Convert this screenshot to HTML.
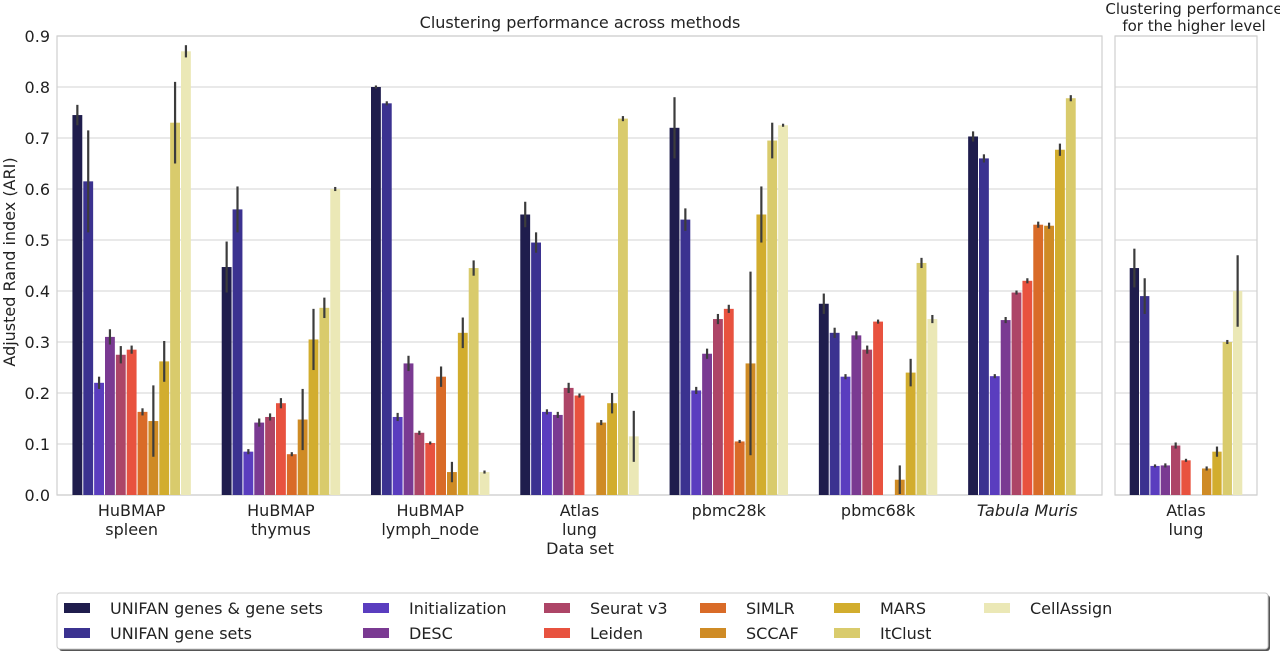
<!DOCTYPE html>
<html><head><meta charset="utf-8"><style>
body{margin:0;background:#fff;}
svg{font-family:"DejaVu Sans","Liberation Sans",sans-serif;}
</style></head><body>
<svg id="chart" width="1280" height="653" xmlns="http://www.w3.org/2000/svg"></svg>
<script>
const methods=["UNIFAN genes & gene sets","UNIFAN gene sets","Initialization","DESC","Seurat v3","Leiden","SIMLR","SCCAF","MARS","ItClust","CellAssign"];
const colors=["#1f1d4d","#3b3290","#5a3dbf","#7a3a92","#ad4567","#e8523f","#d96b28","#cf8b25","#d2ad2e","#d9cb6c","#ebe8b6"];
const datasets=["HuBMAP\nspleen","HuBMAP\nthymus","HuBMAP\nlymph_node","Atlas\nlung","pbmc28k","pbmc68k","Tabula Muris"];
const values=[
[0.745,0.615,0.22,0.31,0.275,0.285,0.163,0.145,0.262,0.73,0.87],
[0.447,0.56,0.085,0.142,0.153,0.18,0.08,0.148,0.305,0.367,0.60],
[0.80,0.768,0.153,0.258,0.122,0.102,0.232,0.045,0.318,0.445,0.045],
[0.55,0.495,0.163,0.157,0.21,0.195,null,0.142,0.18,0.738,0.115],
[0.72,0.54,0.205,0.277,0.345,0.365,0.105,0.258,0.55,0.695,0.725],
[0.375,0.318,0.232,0.313,0.285,0.34,null,0.03,0.24,0.455,0.345],
[0.703,0.66,0.233,0.343,0.397,0.42,0.53,0.528,0.677,0.778,null]];
const errors=[
[0.02,0.1,0.012,0.015,0.017,0.008,0.007,0.07,0.04,0.08,0.012],
[0.05,0.045,0.005,0.008,0.007,0.01,0.004,0.06,0.06,0.02,0.004],
[0.003,0.004,0.008,0.015,0.004,0.003,0.02,0.02,0.03,0.015,0.003],
[0.025,0.02,0.005,0.006,0.01,0.004,0,0.005,0.02,0.005,0.05],
[0.06,0.022,0.007,0.01,0.01,0.008,0.003,0.18,0.055,0.035,0.003],
[0.02,0.01,0.005,0.008,0.008,0.004,0,0.028,0.027,0.01,0.008],
[0.01,0.008,0.004,0.006,0.004,0.005,0.006,0.006,0.012,0.006,0]];
const hiDataset=["Atlas\nlung"];
const hiValues=[0.445,0.39,0.057,0.058,0.097,0.068,null,0.052,0.085,0.30,0.40];
const hiErrors=[0.038,0.035,0.003,0.004,0.006,0.003,0,0.004,0.01,0.004,0.07];
const yTicks=[0,0.1,0.2,0.3,0.4,0.5,0.6,0.7,0.8,0.9];

const NS="http://www.w3.org/2000/svg";
const svg=document.getElementById('chart');
function mk(t,a,p){const e=document.createElementNS(NS,t);for(const k in a)e.setAttribute(k,a[k]);(p||svg).appendChild(e);return e;}
const Y0=495,Y1=36,YMAX=0.9;
const y=v=>Y0-(v/YMAX)*(Y0-Y1);
const main={x0:57,x1:1102},hi={x0:1115,x1:1257};

function panel(P,groups,vals,errs,name){
  const g=mk('g',{});
  
  
  yTicks.forEach(t=>{const l=mk('line',{x1:P.x0,x2:P.x1,y1:y(t),y2:y(t),stroke:'#dcdcdc','stroke-width':1.2},g);
    });
  const fr=mk('rect',{x:P.x0,y:Y1,width:P.x1-P.x0,height:Y0-Y1,fill:'none',stroke:'#cfcfcf','stroke-width':1.2},g);
  
  const gw=(P.x1-P.x0)/groups.length, bw=gw*0.8/methods.length;
  groups.forEach((ds,gi)=>{
    const gx=P.x0+gw*gi+gw*0.1;
    vals[gi].forEach((v,mi)=>{
      if(v===null)return;
      const bx=gx+mi*bw;
      const r=mk('rect',{x:bx+0.5,y:y(v),width:bw-1,height:Y0-y(v),fill:colors[mi]},g);
      
      const e=errs[gi][mi];
      if(e>0){const el=mk('line',{x1:bx+bw/2,x2:bx+bw/2,y1:y(v+e),y2:y(Math.max(0,v-e)),stroke:'#3c3c3c','stroke-width':2.2},g);
        }
    });
    const lines=ds.split('\n');const cx=P.x0+gw*gi+gw/2;
    lines.forEach((s,li)=>{const t=mk('text',{x:cx,y:516+li*19,'text-anchor':'middle','font-size':16,fill:'#222','font-style':s==='Tabula Muris'?'italic':'normal'},g);
      t.textContent=s;});
  });
}
panel(main,datasets,values,errors,'main-panel');
panel(hi,hiDataset,[hiValues],[hiErrors],'higher-level-panel');

yTicks.forEach(t=>{const tx=mk('text',{x:50,y:y(t)+6,'text-anchor':'end','font-size':16,fill:'#222'});
  tx.textContent=t.toFixed(1);});
function txt(s,a,name){const t=mk('text',Object.assign({fill:'#222'},a));t.textContent=s;return t;}
txt('Adjusted Rand index (ARI)',{x:15,y:262,'text-anchor':'middle','font-size':16,transform:'rotate(-90 15 262)'},'y-axis-title');
txt('Data set',{x:580,y:554,'text-anchor':'middle','font-size':16},'x-axis-title');
txt('Clustering performance across methods',{x:580,y:28,'text-anchor':'middle','font-size':16},'main-title');
txt('Clustering performance',{x:1194,y:14,'text-anchor':'middle','font-size':15},'side-title-line1');
txt('for the higher level',{x:1194,y:31,'text-anchor':'middle','font-size':15},'side-title-line2');

// legend
const lg=mk('g',{});


mk('rect',{x:59,y:595,width:1211,height:56,rx:3,fill:'#555'},lg);
mk('rect',{x:57,y:593,width:1211,height:56,rx:3,fill:'#fff',stroke:'#ccc'},lg);
const colX=[64,363,544,700,834,984];
methods.forEach((m,i)=>{
  const c=Math.floor(i/2),r=i%2;const cx=colX[c],cy=608+r*25;
  const e=mk('g',{},lg);
  
  
  mk('rect',{x:cx,y:cy-5,width:26,height:10,fill:colors[i]},e);
  const t=mk('text',{x:cx+46,y:cy+6,'font-size':16,fill:'#222'},e);t.textContent=m;
});
</script>
</body></html>
